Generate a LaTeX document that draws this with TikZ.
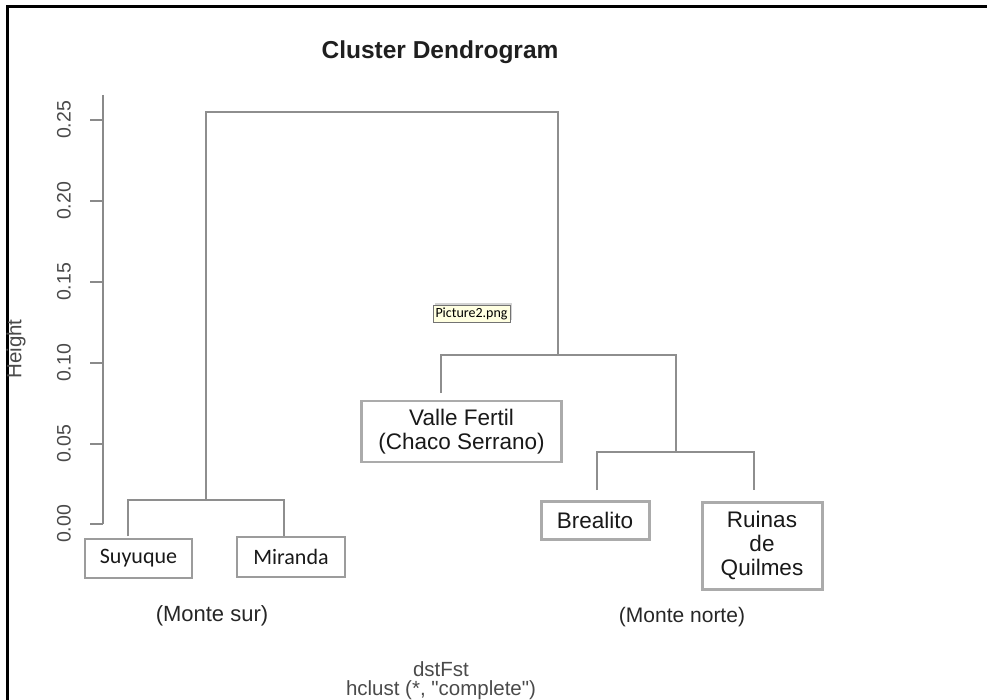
\documentclass[tikz,border=0pt]{standalone}
\usepackage{fontspec}
\setmainfont{Liberation Sans}
\newfontfamily\calib{Carlito}
% plain family: keeps straight quotation marks
\newfontfamily\plainsans{Liberation Sans}
\usetikzlibrary{shadows}
\definecolor{branch}{HTML}{8E8E8E}
\definecolor{axisgray}{HTML}{8A8A8A}
\definecolor{labelgray}{HTML}{4A4A4A}
\definecolor{tipfill}{HTML}{FFFFE1}
\begin{document}
\begin{tikzpicture}[x=1bp,y=-1bp,
  branchline/.style={draw=branch,line width=2bp},
  leafbox/.style={draw=#1,rectangle,inner sep=0pt,fill=white,text=black!90,align=center},
  thinbox/.style={leafbox=axisgray!85,line width=1.1bp},
  thickbox/.style={leafbox=black!33,line width=3bp},
  ticklabel/.style={rotate=90,text=labelgray,font=\fontsize{19.5bp}{21bp}\selectfont},
  boxtext/.style={font=\fontsize{22.5bp}{24bp}\selectfont},
  calibtext/.style={font=\calib\fontsize{22bp}{24bp}\selectfont}]
\useasboundingbox (0,0) rectangle (987,700);
% frame
\draw[line width=3bp,black] (7,702) -- (7,7) -- (990,7);
% title
\node[font=\bfseries\fontsize{24.5bp}{26bp}\selectfont,text=black!88] (title) at (440,52) {Cluster Dendrogram};
% axis
\coordinate (axtop) at (103,95);
\coordinate (axbot) at (103,524);
\draw[draw=axisgray,line width=2bp] (axtop) -- (axbot);
\foreach \v/\y [count=\i] in {0.25/120,0.20/201,0.15/282,0.10/363,0.05/444,0.00/524}{
  \coordinate (tk\i) at (90,\y);
  \draw[draw=axisgray,line width=2bp] (tk\i) -- (103,\y);
  \node[ticklabel] (tl\i) at (64,\y) {\v};
}
\node[rotate=90,text=labelgray,font=\fontsize{20.5bp}{22bp}\selectfont] (ylab) at (16,349) {Height};
% leaf boxes
\node[thinbox,minimum width=107bp,minimum height=39bp,calibtext] (suy) at (138.5,558.5) {Suyuque};
\node[thinbox,minimum width=108bp,minimum height=40bp,calibtext] (mir) at (291,557) {Miranda};
\node[thickbox,line width=2.6bp,minimum width=200bp,minimum height=61bp,boxtext] (val) at (461.5,431.5) {Valle Fertil\\(Chaco Serrano)};
\node[thickbox,minimum width=108bp,minimum height=38bp,boxtext] (bre) at (595,520.5) {Brealito};
\node[thickbox,minimum width=120bp,minimum height=87bp,boxtext] (rui) at (762,545.5) {Ruinas\\de\\Quilmes};
% leaf tips of the tree
\coordinate (tsuy) at (128,536);
\coordinate (tmir) at (284,536);
\coordinate (tval) at (441,393);
\coordinate (tbre) at (597,490);
\coordinate (trui) at (754,490);
% merge points
\coordinate (msm) at (206,500);
\coordinate (mbr) at (675.5,452);
\coordinate (mvbr) at (558,355);
\coordinate (mtop) at (382,112);
\draw[branchline] (tsuy) |- (msm) -| (tmir);
\draw[branchline] (tbre) |- (mbr) -| (trui);
\draw[branchline] (tval) |- (mvbr) -| (mbr);
\draw[branchline] (msm) |- (mtop) -| (mvbr);
% group captions
\node[text=black!85,font=\fontsize{22bp}{24bp}\selectfont] (sur) at (212,616) {(Monte sur)};
\node[text=black!85,font=\fontsize{21bp}{23bp}\selectfont] (norte) at (682,617) {(Monte norte)};
% x axis caption
\node[text=labelgray,font=\fontsize{20.5bp}{22bp}\selectfont] (xlab) at (441,669) {dstFst};
\node[text=labelgray,font=\plainsans\fontsize{20.5bp}{22bp}\selectfont] (sub) at (441,690) {hclust (*, "complete")};
% tooltip
\node[draw=black!55,fill=tipfill,line width=0.8bp,drop shadow={shadow xshift=2bp,shadow yshift=2bp,opacity=0.35},
  minimum width=77bp,minimum height=17bp,inner sep=0pt,font=\calib\fontsize{14bp}{15bp}\selectfont] (tip) at (471.5,313.5) {Picture2.png};
\end{tikzpicture}
\end{document}
